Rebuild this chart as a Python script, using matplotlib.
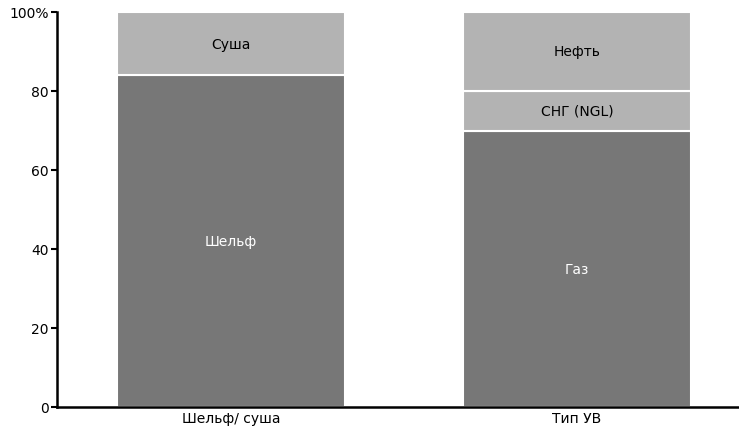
import matplotlib
matplotlib.use("Agg")
import matplotlib.pyplot as plt

# Daten
categories = ["Шельф/ суша", "Тип УВ"]
seg_labels = [["Шельф", "Суша"], ["Газ", "СНГ (NGL)", "Нефть"]]
seg_values = [[84, 16], [70, 10, 20]]
seg_colors = [["#777777", "#b3b3b3"], ["#777777", "#b3b3b3", "#b3b3b3"]]
text_colors = [["white", "black"], ["white", "black", "black"]]
yticks = [0, 20, 40, 60, 80, 100]
ytick_labels = ["0", "20", "40", "60", "80", "100%"]

fig = plt.figure(figsize=(7.39, 4.27), dpi=100)
ax = fig.add_axes([57 / 739, 19 / 427, 1 - 57 / 739, (408 - 13) / 427])

for i, cat in enumerate(categories):
    bottom = 0
    for lab, val, col, tc in zip(seg_labels[i], seg_values[i], seg_colors[i], text_colors[i]):
        ax.bar(i, val, bottom=bottom, width=0.66, color=col,
               edgecolor="white", linewidth=1.5)
        ax.text(i, bottom + val / 2, lab, ha="center", va="center",
                color=tc, fontsize=10)
        bottom += val

ax.set_xlim(-0.503, 1.468)
ax.set_ylim(0, 100)
ax.set_xticks(range(len(categories)))
ax.set_xticklabels(categories, fontsize=10)
ax.set_yticks(yticks)
ax.set_yticklabels(ytick_labels, fontsize=10)
ax.tick_params(axis="x", length=0, pad=3)
ax.tick_params(axis="y", length=4, width=1.5, pad=2)
for s in ["top", "right"]:
    ax.spines[s].set_visible(False)
for s in ["left", "bottom"]:
    ax.spines[s].set_linewidth(1.8)

fig.savefig("out.png", dpi=100)
